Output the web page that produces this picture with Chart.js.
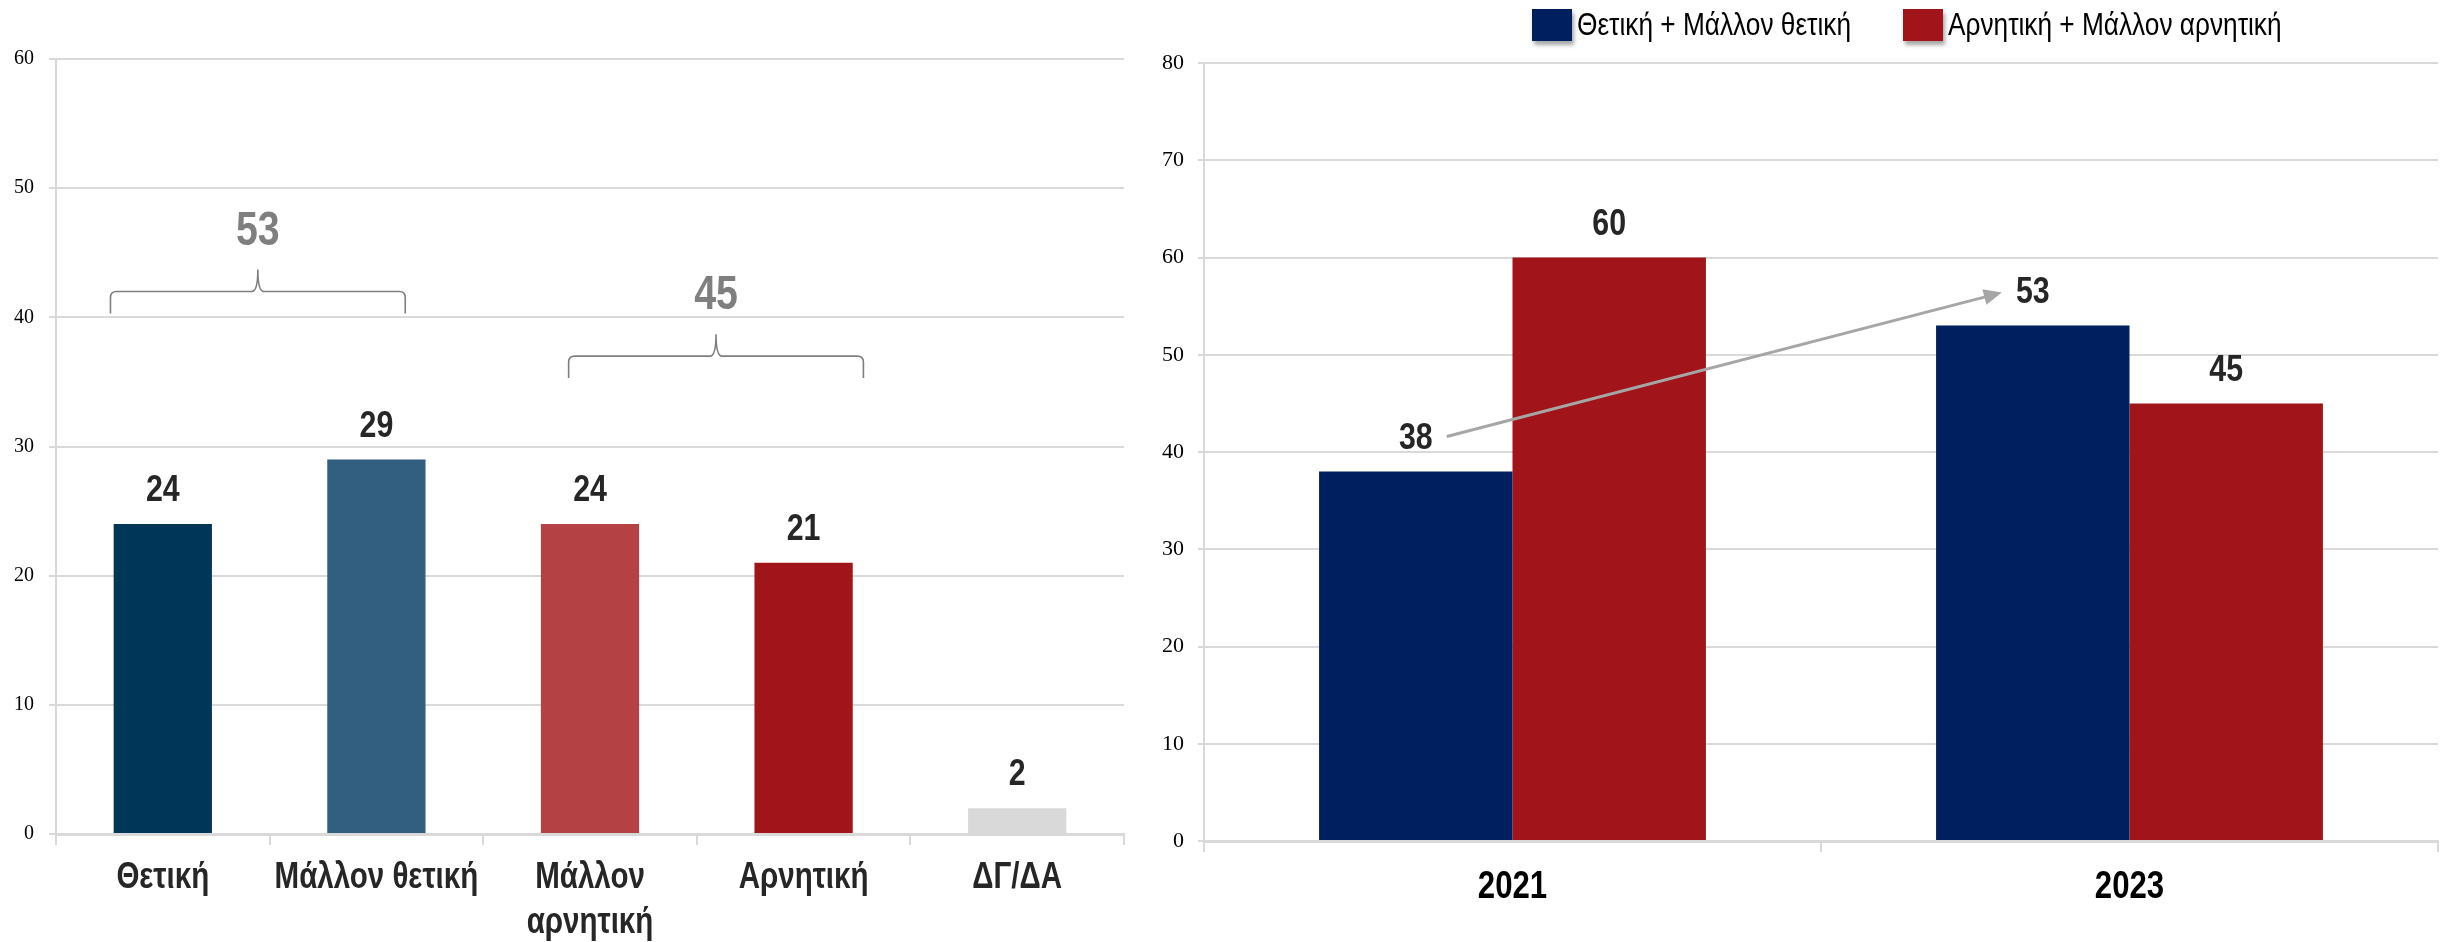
<!DOCTYPE html>
<html>
<head>
<meta charset="utf-8">
<script src="https://cdn.jsdelivr.net/npm/chart.js@4.4.1/dist/chart.umd.min.js"></script>
<style>
  html, body { margin: 0; padding: 0; background: #ffffff; overflow: hidden; }
  #left { position: absolute; left: 0; top: 0; }
  #right { position: absolute; left: 1130px; top: 0; }
</style>
</head>
<body>
<canvas id="left" width="1130" height="942"></canvas>
<canvas id="right" width="1329" height="942"></canvas>
<script>
// ---------- data ----------
const leftCategories = ['Θετική', 'Μάλλον θετική', ['Μάλλον', 'αρνητική'], 'Αρνητική', 'ΔΓ/ΔΑ'];
const leftValues = [24, 29, 24, 21, 2];
const leftTicks = [0, 10, 20, 30, 40, 50, 60];
const groupMembers = [[0, 1], [2, 3]];
const groupTotals = [53, 45];

const years = ['2021', '2023'];
const seriesNames = ['Θετική + Μάλλον θετική', 'Αρνητική + Μάλλον αρνητική'];
const positiveValues = [38, 53];
const negativeValues = [60, 45];
const rightTicks = [0, 10, 20, 30, 40, 50, 60, 70, 80];

// ---------- styles ----------
const leftColors = ['#003658', '#325E80', '#B44245', '#A11419', '#D9D9D9'];
const seriesColors = ['#001F5F', '#A11419'];
const braceShift = [-0.055, 0.09];
const NARROW = '"Liberation Sans Narrow", "Liberation Sans", Arial, sans-serif';
const SERIF = '"Liberation Serif", "DejaVu Serif", serif';
const GRID = '#D9D9D9';
const CONDENSE = 0.82;

// condensed rendering of the narrow sans text (Arial Narrow look)
function condense(canvas) {
  const ctx = canvas.getContext('2d');
  const orig = ctx.fillText.bind(ctx);
  ctx.fillText = function (text, x, y, maxWidth) {
    if (/Narrow/.test(this.font)) {
      this.save();
      this.translate(x, y);
      this.scale(CONDENSE, 1);
      orig(text, 0, 0);
      this.restore();
    } else if (maxWidth !== undefined) {
      orig(text, x, y, maxWidth);
    } else {
      orig(text, x, y);
    }
  };
}
condense(document.getElementById('left'));
condense(document.getElementById('right'));

const valueLabels = {
  id: 'valueLabels',
  afterDatasetsDraw(chart, args, opts) {
    const ctx = chart.ctx;
    chart.data.datasets.forEach((ds, di) => {
      const meta = chart.getDatasetMeta(di);
      meta.data.forEach((bar, i) => {
        ctx.save();
        ctx.font = 'bold ' + opts.size + 'px ' + NARROW;
        ctx.fillStyle = opts.color;
        ctx.textAlign = 'center';
        ctx.textBaseline = 'middle';
        ctx.fillText(String(ds.data[i]), bar.x, bar.y - opts.offset);
        ctx.restore();
      });
    });
  }
};

const braces = {
  id: 'braces',
  afterDatasetsDraw(chart) {
    const ctx = chart.ctx, x = chart.scales.x, y = chart.scales.y;
    const step = x.getPixelForValue(1) - x.getPixelForValue(0);
    groupMembers.forEach((members, g) => {
      const first = members[0], last = members[members.length - 1];
      const maxVal = Math.max(...members.map(i => leftValues[i]));
      const xc = (x.getPixelForValue(first) + x.getPixelForValue(last)) / 2 + braceShift[g] * step;
      const x0 = xc - 0.69 * step;
      const x1 = xc + 0.69 * step;
      const yFlat = y.getPixelForValue(maxVal + 13);
      const yBot = y.getPixelForValue(maxVal + 11.3);
      const yTip = y.getPixelForValue(maxVal + 14.7);
      const r = 6;
      ctx.save();
      ctx.strokeStyle = '#7F7F7F';
      ctx.lineWidth = 1.6;
      ctx.beginPath();
      ctx.moveTo(x0, yBot);
      ctx.lineTo(x0, yFlat + r);
      ctx.quadraticCurveTo(x0, yFlat, x0 + r, yFlat);
      ctx.lineTo(xc - r, yFlat);
      ctx.quadraticCurveTo(xc, yFlat, xc, yTip);
      ctx.quadraticCurveTo(xc, yFlat, xc + r, yFlat);
      ctx.lineTo(x1 - r, yFlat);
      ctx.quadraticCurveTo(x1, yFlat, x1, yFlat + r);
      ctx.lineTo(x1, yBot);
      ctx.stroke();
      ctx.font = 'bold 48px ' + NARROW;
      ctx.fillStyle = '#7F7F7F';
      ctx.textAlign = 'center';
      ctx.textBaseline = 'middle';
      ctx.fillText(String(groupTotals[g]), xc, yTip - 38);
      ctx.restore();
    });
  }
};

const arrow = {
  id: 'arrow',
  afterDatasetsDraw(chart) {
    const ctx = chart.ctx;
    const bars = chart.getDatasetMeta(0).data;
    const sx = bars[0].x + 31, sy = bars[0].y - 35;
    const ex = bars[1].x - 31, ey = bars[1].y - 33;
    const ang = Math.atan2(ey - sy, ex - sx);
    ctx.save();
    ctx.strokeStyle = '#A6A6A6';
    ctx.fillStyle = '#A6A6A6';
    ctx.lineWidth = 3;
    ctx.beginPath();
    ctx.moveTo(sx, sy);
    ctx.lineTo(ex - 14 * Math.cos(ang), ey - 14 * Math.sin(ang));
    ctx.stroke();
    ctx.beginPath();
    ctx.moveTo(ex, ey);
    ctx.lineTo(ex - 18 * Math.cos(ang) + 8 * Math.sin(ang), ey - 18 * Math.sin(ang) - 8 * Math.cos(ang));
    ctx.lineTo(ex - 18 * Math.cos(ang) - 8 * Math.sin(ang), ey - 18 * Math.sin(ang) + 8 * Math.cos(ang));
    ctx.closePath();
    ctx.fill();
    ctx.restore();
  }
};

const customLegend = {
  id: 'customLegend',
  afterDraw(chart) {
    const ctx = chart.ctx;
    let x = 402;
    const top = 9, bw = 40, bh = 32, gap = 5;
    chart.data.datasets.forEach((ds) => {
      ctx.save();
      ctx.shadowColor = 'rgba(0,0,0,0.35)';
      ctx.shadowOffsetX = 2;
      ctx.shadowOffsetY = 4;
      ctx.shadowBlur = 4;
      ctx.fillStyle = ds.backgroundColor;
      ctx.fillRect(x, top, bw, bh);
      ctx.restore();
      ctx.save();
      ctx.font = '32px ' + NARROW;
      ctx.fillStyle = '#000000';
      ctx.textAlign = 'left';
      ctx.textBaseline = 'middle';
      ctx.fillText(ds.label, x + bw + gap, top + bh / 2 + 1);
      const w = ctx.measureText(ds.label).width * CONDENSE;
      ctx.restore();
      x += bw + gap + w + 52;
    });
  }
};

function yScale(ticks, tickLen, pad, width, size) {
  return {
    min: ticks[0], max: ticks[ticks.length - 1],
    afterBuildTicks: (s) => { s.ticks = ticks.map(v => ({ value: v })); },
    afterFit: (s) => { s.width = width; },
    grid: { color: GRID, lineWidth: 2, tickLength: tickLen, drawTicks: true },
    border: { display: true, color: GRID, width: 2 },
    ticks: { color: '#000000', padding: pad, font: { family: SERIF, size: size } }
  };
}

new Chart(document.getElementById('left'), {
  type: 'bar',
  data: {
    labels: leftCategories,
    datasets: [{ data: leftValues, backgroundColor: leftColors, barPercentage: 0.46, categoryPercentage: 1 }]
  },
  options: {
    responsive: false, animation: false,
    layout: { padding: { top: 59, right: 6, left: 0, bottom: 0 } },
    plugins: { legend: { display: false }, tooltip: { enabled: false },
      valueLabels: { size: 37, color: '#262626', offset: 33 } },
    scales: {
      x: {
        afterFit: (s) => { s.height = 108; },
        grid: { drawOnChartArea: false, drawTicks: true, tickLength: 11, color: GRID, lineWidth: 2, offset: true },
        border: { display: true, color: GRID, width: 3 },
        ticks: { color: '#262626', padding: 11, maxRotation: 0, autoSkip: false,
          font: { family: NARROW, size: 36, weight: 'bold', lineHeight: 1.24 } }
      },
      y: yScale(leftTicks, 7, 15, 56, 20)
    }
  },
  plugins: [valueLabels, braces]
});

new Chart(document.getElementById('right'), {
  type: 'bar',
  data: {
    labels: years,
    datasets: [
      { label: seriesNames[0], data: positiveValues, backgroundColor: seriesColors[0], barPercentage: 1, categoryPercentage: 0.627 },
      { label: seriesNames[1], data: negativeValues, backgroundColor: seriesColors[1], barPercentage: 1, categoryPercentage: 0.627 }
    ]
  },
  options: {
    responsive: false, animation: false,
    layout: { padding: { top: 63, right: 21, left: 0, bottom: 0 } },
    plugins: { legend: { display: false }, tooltip: { enabled: false },
      valueLabels: { size: 37, color: '#262626', offset: 33 } },
    scales: {
      x: {
        afterFit: (s) => { s.height = 101; },
        grid: { drawOnChartArea: false, drawTicks: true, tickLength: 11, color: GRID, lineWidth: 2, offset: true },
        border: { display: true, color: GRID, width: 3 },
        ticks: { color: '#000000', padding: 13, maxRotation: 0,
          font: { family: NARROW, size: 38, weight: 'bold' } }
      },
      y: yScale(rightTicks, 6, 14, 74, 22)
    }
  },
  plugins: [valueLabels, arrow, customLegend]
});
</script>
</body>
</html>
